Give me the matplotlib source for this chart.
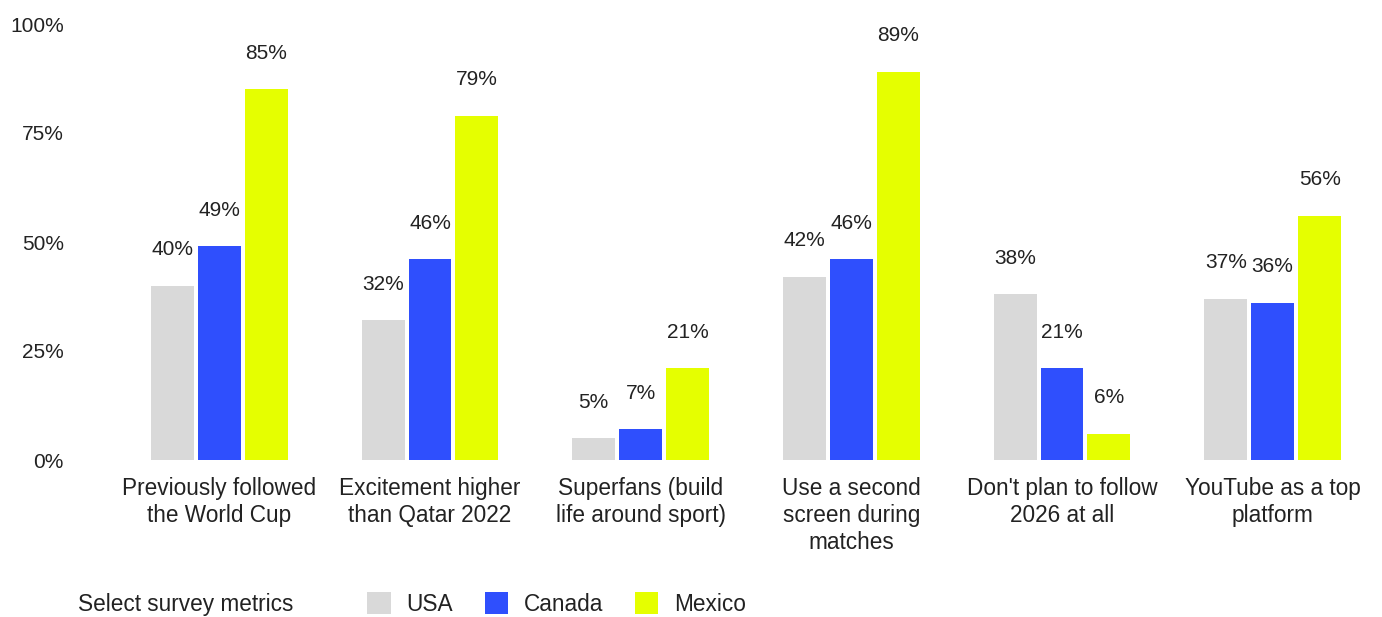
import matplotlib
matplotlib.use("Agg")
import matplotlib.pyplot as plt
import numpy as np

plt.rcParams['font.family'] = ['Liberation Sans', 'DejaVu Sans']

categories = ["Previously followed\nthe World Cup",
              "Excitement higher\nthan Qatar 2022",
              "Superfans (build\nlife around sport)",
              "Use a second\nscreen during\nmatches",
              "Don't plan to follow\n2026 at all",
              "YouTube as a top\nplatform"]
usa = [40, 32, 5, 42, 38, 37]
canada = [49, 46, 7, 46, 21, 36]
mexico = [85, 79, 21, 89, 6, 56]
countries = ["USA", "Canada", "Mexico"]
colors = ["#d9d9d9", "#2f4ffd", "#e5ff00"]
yticks = [0, 25, 50, 75, 100]

W, H = 1382, 617
fig = plt.figure(figsize=(W / 100, H / 100), dpi=100)
# axes placed in pixels: x from 114 to 1378, y from 460 (0%) to 24 (100%)
ax = fig.add_axes([114 / W, (H - 460) / H, (1378 - 114) / W, (460 - 24) / H])

x = np.arange(len(categories))
width = 0.204
step = 0.223
bars = []
for k, (vals, col, name) in enumerate(zip([usa, canada, mexico], colors, countries)):
    b = ax.bar(x + (k - 1) * step, vals, width, color=col, label=name, linewidth=0)
    bars.append(b)
    for rect, v in zip(b, vals):
        ax.annotate(f"{v}%", (rect.get_x() + rect.get_width() / 2, v),
                    xytext=(0, 26), textcoords="offset points",
                    ha="center", va="center", fontsize=15, color="#222222")

ax.set_xlim(-0.5, len(categories) - 0.5)
ax.set_ylim(0, 100)
ax.set_yticks(yticks)
ax.set_yticklabels([f"{t}%" for t in yticks])
ax.set_xticks(x)
ax.set_xticklabels(categories, linespacing=1.22)
ax.tick_params(axis='y', length=0, pad=36, labelsize=15, labelcolor="#222222")
ax.tick_params(axis='x', length=0, pad=12, labelsize=16.3, labelcolor="#222222")
for s in ax.spines.values():
    s.set_visible(False)

fig.text(78 / W, 1 - 604 / H, "Select survey metrics", fontsize=16.3,
         color="#222222", va="center", ha="left")
fig.legend(handles=bars, labels=countries, loc="center left",
           bbox_to_anchor=(347 / W, 1 - 604 / H), ncol=3, frameon=False,
           fontsize=16.3, handlelength=1.03, handleheight=1.07,
           handletextpad=0.7, columnspacing=1.4, labelcolor="#222222")

fig.savefig("out.png", dpi=100)
